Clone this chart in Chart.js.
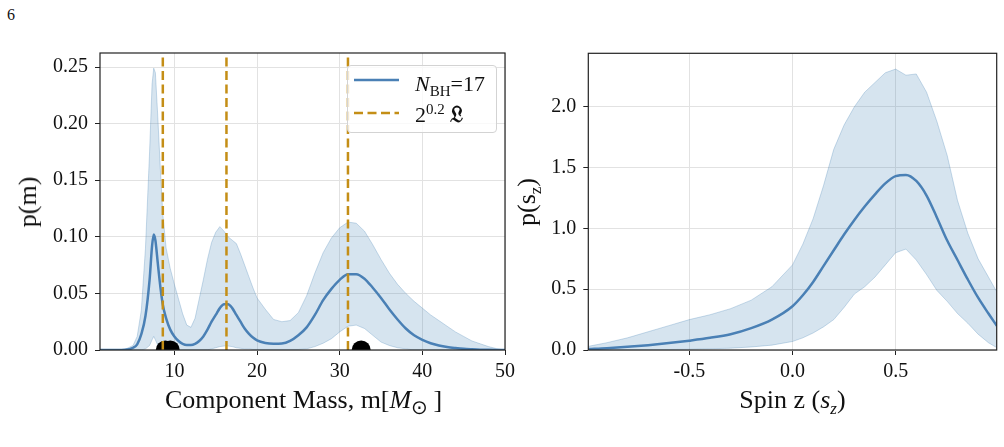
<!DOCTYPE html>
<html>
<head>
<meta charset="utf-8">
<script src="https://cdn.jsdelivr.net/npm/chart.js@4.4.0/dist/chart.umd.min.js"></script>
<style>
  body { margin: 0; background: #fff; width: 1004px; height: 447px; position: relative; overflow: hidden;
         font-family: "Liberation Serif", serif; color: #111; }
  canvas { position: absolute; top: 0; }
  .t { position: absolute; white-space: nowrap; line-height: 1; }
  sub, sup { line-height: 0; }
  .axt { font-size: 26px; }
  .rot { transform: translate(-50%, -50%) rotate(-90deg); }
  #legend { position: absolute; left: 347px; top: 65px; width: 150px; height: 68px; box-sizing: border-box;
            border: 1px solid #d3d3d3; border-radius: 4px; background: rgba(255,255,255,0.8); }
  #legend svg { position: absolute; left: -1px; top: -1px; }
  #legend .t { font-size: 22px; left: 67px; }
  .frak { font-family: "DejaVu Serif", "DejaVu Sans", "Noto Sans", serif; font-size: 22px; font-weight: bold; }
</style>
</head>
<body>
<div class="t" style="left:7px; top:7px; font-size:16px;">6</div>

<canvas id="massChart" width="520" height="447" style="left:0"></canvas>
<canvas id="spinChart" width="504" height="447" style="left:500px"></canvas>

<div class="t axt" style="left:303.5px; top:387px; transform:translateX(-50%);">Component Mass, m[<i>M</i><sub style="font-size:20px">⊙</sub>&thinsp;]</div>
<div class="t axt rot" style="left:28px; top:201.5px;">p(m)</div>
<div class="t axt" style="left:792.5px; top:387px; transform:translateX(-50%);">Spin z (<i>s<sub style="font-size:17px">z</sub></i>)</div>
<div class="t axt rot" style="left:527px; top:201.5px;">p(s<sub style="font-size:17px">z</sub>)</div>

<div id="legend">
  <svg width="150" height="68">
    <line x1="7" y1="15" x2="52" y2="15" stroke="#4a80b5" stroke-width="2.5"/>
    <line x1="7" y1="48" x2="52" y2="48" stroke="#c48e16" stroke-width="2.5" stroke-dasharray="9,4.5"/>
  </svg>
  <div class="t" style="top:6.6px;"><i>N</i><sub style="font-size:15px">BH</sub>=17</div>
  <div class="t" style="top:36.6px;">2<sup style="font-size:15px">0.2</sup> <span class="frak">𝔏</span></div>
</div>

<script>
// ---- left panel: component mass ----
const massX = [1, 2, 3, 4, 5, 5.5, 6, 6.5, 7, 7.3, 7.5, 7.7, 8, 8.3, 8.6, 9, 9.5, 10, 10.5, 11, 11.5, 12, 12.5, 13, 13.5,
  14, 14.5, 15, 15.5, 16, 16.5, 17, 17.5, 18, 18.5, 19, 19.5, 20, 21, 22, 23, 24, 25, 26, 27, 28, 29, 30, 31, 32, 33,
  34, 35, 36, 37, 38, 39, 40, 41, 42, 43, 44, 45, 46, 47, 48, 49, 50];
const massMean = [0, 0, 0, 0.0002, 0.002, 0.005, 0.014, 0.03, 0.062, 0.092, 0.102, 0.097, 0.076, 0.056, 0.04, 0.028, 0.018,
  0.012, 0.008, 0.0055, 0.0045, 0.0045, 0.0055, 0.008, 0.012, 0.018, 0.025, 0.031, 0.037, 0.0405, 0.0405, 0.037, 0.031,
  0.025, 0.019, 0.0145, 0.011, 0.0085, 0.0062, 0.0055, 0.0057, 0.008, 0.013, 0.02, 0.031, 0.044, 0.054, 0.062, 0.067,
  0.067, 0.063, 0.055, 0.046, 0.036, 0.027, 0.019, 0.013, 0.009, 0.006, 0.004, 0.0026, 0.0017, 0.001, 0.0006, 0.0003,
  0.0002, 0.0001, 0];
const massUpper = [0, 0, 0, 0.0005, 0.004, 0.012, 0.035, 0.09, 0.175, 0.235, 0.249, 0.245, 0.205, 0.16, 0.12, 0.09, 0.072,
  0.058, 0.045, 0.032, 0.022, 0.02, 0.028, 0.045, 0.062, 0.08, 0.095, 0.104, 0.109, 0.105, 0.1, 0.097, 0.094, 0.085,
  0.075, 0.065, 0.055, 0.046, 0.036, 0.027, 0.025, 0.026, 0.033, 0.048, 0.068, 0.086, 0.099, 0.108, 0.113, 0.112, 0.105,
  0.093, 0.08, 0.068, 0.058, 0.05, 0.043, 0.037, 0.031, 0.026, 0.021, 0.016, 0.012, 0.008, 0.0055, 0.003, 0.0012, 0];
const massLower = [0, 0, 0, 0, 0, 0, 0, 0.001, 0.004, 0.009, 0.012, 0.009, 0.004, 0.002, 0.001, 0.0005, 0, 0, 0, 0, 0, 0, 0,
  0, 0, 0, 0.001, 0.002, 0.003, 0.0035, 0.0035, 0.003, 0.002, 0.0015, 0.001, 0.001, 0.0005, 0.0005, 0.0005, 0.0005,
  0.0005, 0.0005, 0.0005, 0.001, 0.003, 0.006, 0.01, 0.016, 0.021, 0.022, 0.019, 0.013, 0.007, 0.004, 0.002, 0.001, 0,
  0, 0, 0, 0, 0, 0, 0, 0, 0, 0, 0];
const massLines = [8.6, 16.3, 31.0];       // 2^0.2 L markers
const massEvents = [8.9, 9.5, 32.6];       // black dots on the axis
const massRange = [1, 50];
const massYRange = [0, 0.2624];
const massXTicks = [10, 20, 30, 40, 50];
const massXLabels = ["10", "20", "30", "40", "50"];
const massYTicks = [0, 0.05, 0.1, 0.15, 0.2, 0.25];
const massYLabels = ["0.00", "0.05", "0.10", "0.15", "0.20", "0.25"];

// ---- right panel: spin z ----
const spinX = [-0.99, -0.9, -0.8, -0.7, -0.6, -0.5, -0.4, -0.3, -0.2, -0.1, 0, 0.05, 0.1, 0.15, 0.2, 0.25, 0.3, 0.35,
  0.4, 0.45, 0.5, 0.55, 0.6, 0.65, 0.7, 0.75, 0.8, 0.85, 0.9, 0.95, 0.99];
const spinMean = [0.008, 0.015, 0.026, 0.04, 0.057, 0.077, 0.1, 0.13, 0.18, 0.25, 0.36, 0.45, 0.56, 0.69, 0.82, 0.95,
  1.07, 1.18, 1.28, 1.37, 1.43, 1.44, 1.39, 1.27, 1.09, 0.9, 0.74, 0.58, 0.43, 0.3, 0.2];
const spinUpper = [0.03, 0.06, 0.1, 0.15, 0.2, 0.25, 0.29, 0.34, 0.41, 0.52, 0.7, 0.87, 1.08, 1.35, 1.65, 1.85, 2.0, 2.12,
  2.2, 2.28, 2.31, 2.26, 2.27, 2.12, 1.88, 1.6, 1.23, 0.96, 0.75, 0.6, 0.48];
const spinLower = [0, 0, 0.001, 0.002, 0.004, 0.006, 0.01, 0.015, 0.025, 0.04, 0.07, 0.1, 0.14, 0.19, 0.25, 0.35, 0.46,
  0.52, 0.6, 0.7, 0.8, 0.83, 0.74, 0.62, 0.49, 0.4, 0.3, 0.22, 0.13, 0.06, 0.02];
const spinRange = [-0.99, 0.99];
const spinYRange = [0, 2.44];
const spinXTicks = [-0.5, 0, 0.5];
const spinXLabels = ["-0.5", "0.0", "0.5"];
const spinYTicks = [0, 0.5, 1, 1.5, 2];
const spinYLabels = ["0.0", "0.5", "1.0", "1.5", "2.0"];

const BLUE = "#4a80b5";
const BAND = "rgba(70,130,180,0.22)";
const BAND_EDGE = "rgba(70,130,180,0.28)";
const GOLD = "#c48e16";
const tickFont = { family: "Liberation Serif", size: 20 };

const pts = (xs, ys) => xs.map((x, i) => ({ x: x, y: ys[i] }));

// box around the plotting area, like matplotlib's spines
const frame = {
  id: "frame",
  afterDraw(chart) {
    const { ctx, chartArea: a } = chart;
    ctx.save();
    ctx.strokeStyle = "#222";
    ctx.lineWidth = 1.2;
    ctx.strokeRect(a.left, a.top, a.right - a.left, a.bottom - a.top);
    ctx.restore();
  },
};

function axis(range, ticks, labels, fitFn, pad) {
  return {
    type: "linear",
    min: range[0],
    max: range[1],
    afterBuildTicks: (s) => { s.ticks = ticks.map((v) => ({ value: v })); },
    afterFit: fitFn,
    border: { display: false },
    grid: { color: "#e2e2e2", lineWidth: 1, tickColor: "#222", tickLength: 5, tickWidth: 1 },
    ticks: { font: tickFont, color: "#111", padding: pad, autoSkip: false, maxRotation: 0,
             callback: (v, i) => labels[i] },
  };
}

function bandSets(xs, upper, lower, mean) {
  return [
    { data: pts(xs, mean), borderColor: BLUE, borderWidth: 2.5, pointRadius: 0,
      cubicInterpolationMode: "monotone", fill: false },
    { data: pts(xs, upper), borderColor: BAND_EDGE, borderWidth: 1, pointRadius: 0,
      backgroundColor: BAND, fill: "+1" },
    { data: pts(xs, lower), borderColor: BAND_EDGE, borderWidth: 1, pointRadius: 0, fill: false },
  ];
}

const baseOpts = {
  responsive: false,
  animation: false,
  devicePixelRatio: 1,
  plugins: { legend: { display: false }, tooltip: { enabled: false } },
};

new Chart(document.getElementById("massChart"), {
  type: "line",
  data: {
    datasets: [
      ...massLines.map((v) => ({
        data: [{ x: v, y: massYRange[0] }, { x: v, y: massYRange[1] }],
        borderColor: GOLD, borderWidth: 2.5, borderDash: [9, 4.5], pointRadius: 0, fill: false,
      })),
      { data: massEvents.map((v) => ({ x: v, y: 0 })), showLine: false, pointRadius: 9.5,
        pointBackgroundColor: "#000", pointBorderWidth: 0, clip: 0 },
      ...bandSets(massX, massUpper, massLower, massMean),
    ],
  },
  options: {
    ...baseOpts,
    layout: { padding: { top: 53, right: 13, left: 0, bottom: 0 } },
    scales: {
      x: axis(massRange, massXTicks, massXLabels, (s) => { s.height = 97; }, 5),
      y: axis(massYRange, massYTicks, massYLabels, (s) => { s.width = 100; }, 7),
    },
  },
  plugins: [frame],
});

new Chart(document.getElementById("spinChart"), {
  type: "line",
  data: { datasets: bandSets(spinX, spinUpper, spinLower, spinMean) },
  options: {
    ...baseOpts,
    layout: { padding: { top: 53.3, right: 7.3, left: 0, bottom: 0 } },
    scales: {
      x: axis(spinRange, spinXTicks, spinXLabels, (s) => { s.height = 97; }, 5),
      y: axis(spinYRange, spinYTicks, spinYLabels, (s) => { s.width = 88.3; }, 7),
    },
  },
  plugins: [frame],
});
</script>
</body>
</html>
